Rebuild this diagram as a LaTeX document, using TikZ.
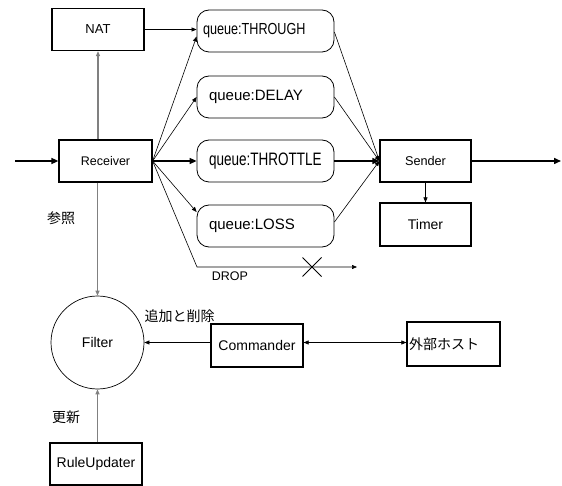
\documentclass[tikz,border=0pt]{standalone}
\usepackage{fontspec}
\setmainfont{Liberation Sans}
\newfontfamily\jp{Noto Sans CJK JP}
\usetikzlibrary{arrows.meta,calc}
\begin{document}
\begin{tikzpicture}[x=1pt,y=-1pt,
  box/.style={draw,line width=1.2pt,inner sep=0pt,minimum width=92pt,minimum height=42pt},
  queue/.style={draw,line width=0.8pt,rounded corners=12pt,minimum width=137pt,minimum height=42pt,inner ysep=0pt,inner xsep=12pt,text width=113pt,align=left,font=\fontsize{15}{17}\selectfont},
  thinar/.style={line width=0.6pt,-{Triangle[length=5pt,width=4pt]}},
  thickar/.style={line width=1.5pt,-{Triangle[length=7pt,width=6pt]}},
  grayar/.style={draw=gray,line width=1.2pt,-{Triangle[length=5pt,width=4pt]}},
  lbl/.style={inner sep=0pt},
  jplbl/.style={inner sep=0pt,font=\jp\fontsize{14}{16}\selectfont},
]
\useasboundingbox (0,0) rectangle (562,486);

% boxes
\node[box,font=\fontsize{13}{15}\selectfont] (nat) at (98,29.5) {NAT};
\node[box,minimum width=93pt,font=\fontsize{12.5}{15}\selectfont] (rec) at (105.5,161) {Receiver};
\node[box,minimum width=91pt,font=\fontsize{12.7}{15}\selectfont] (snd) at (425.5,161) {Sender};
\node[box,minimum width=91pt,minimum height=43pt,font=\fontsize{14}{16}\selectfont] (tmr) at (425.5,224.5) {Timer};
\node[box,minimum height=43pt,font=\fontsize{14}{16}\selectfont] (cmd) at (257,345.5) {Commander};
\node[box,minimum width=93pt,minimum height=44pt,inner xsep=2pt,text width=89pt,align=left,font=\jp\fontsize{14}{16}\selectfont] (ext) at (453.5,344) {外部ホスト};
\node[box,font=\fontsize{14}{16}\selectfont] (ru) at (96,464) {RuleUpdater};
\node[draw,circle,line width=0.7pt,minimum size=93pt,inner sep=0pt,font=\fontsize{14}{16}\selectfont] (flt) at (97.5,342.5) {Filter};

% queues
\node[queue,inner xsep=6pt,text width=125pt] (thr) at (265.5,31) {\scalebox{0.79}[1]{\fontsize{16}{18}\selectfont queue:THROUGH}};
\node[queue] (dly) at (265.5,97) {queue:DELAY};
\node[queue] (thl) at (265.5,161) {\scalebox{0.75}[1]{\fontsize{18}{20}\selectfont queue:THROTTLE}};
\node[queue] (los) at (265.5,226) {queue:LOSS};

% labels
\node[jplbl] (lsansho) at (61,218) {参照};
\node[lbl,font=\fontsize{12.5}{14}\selectfont] (ldrop) at (230,276) {DROP};
\node[jplbl] (ladd) at (179.5,316) {追加と削除};
\node[jplbl] (lupd) at (66,417) {更新};

% coordinates
\coordinate (in) at (15,161);
\coordinate (out) at (561,161);
\coordinate (dropc) at (197,267);
\coordinate (drope) at (357,267);
\coordinate (xm) at (312,267);

% main flow
\draw[thickar] (in) -- (rec.west);
\draw[thickar] (rec.east) -- (thl.west);
\draw[thickar] (thl.east) -- (snd.west);
\draw[thickar] (snd.east) -- (out);

% receiver to queues
\draw[thinar] (rec.east) -- ($(thr.west)+(0,5.5)$);
\draw[thinar] (rec.east) -- (dly.west);
\draw[thinar] (rec.east) -- ($(los.west)+(0,-14)$);
\draw[thinar] (rec.east) -- (dropc) -- (drope);
\draw[line width=1pt] ($(xm)+(-9.5,-9.5)$) -- ($(xm)+(9.5,9.5)$);
\draw[line width=1pt] ($(xm)+(-9.5,9.5)$) -- ($(xm)+(9.5,-9.5)$);

% queues to sender
\draw[thinar] ($(thr.east)+(0,1)$) -- (snd.west);
\draw[thinar] (dly.east) -- (snd.west);
\draw[thinar] ($(los.east)+(0,-4)$) -- (snd.west);

% others
\draw[thinar] (nat.east) -- (nat.east -| thr.west);
\draw[thinar] (snd.south) -- (tmr.north);
\draw[grayar] (nat.south |- rec.north) -- (nat.south);
\draw[grayar] (flt.north |- rec.south) -- (flt.north);
\draw[grayar] (flt.south |- ru.north) -- (flt.south);
\draw[thinar] (cmd.west |- flt.east) -- (flt.east);
\draw[line width=0.6pt,{Triangle[length=5pt,width=4pt]}-{Triangle[length=5pt,width=4pt]}] (cmd.east |- flt.east) -- (ext.west |- flt.east);
\end{tikzpicture}
\end{document}
